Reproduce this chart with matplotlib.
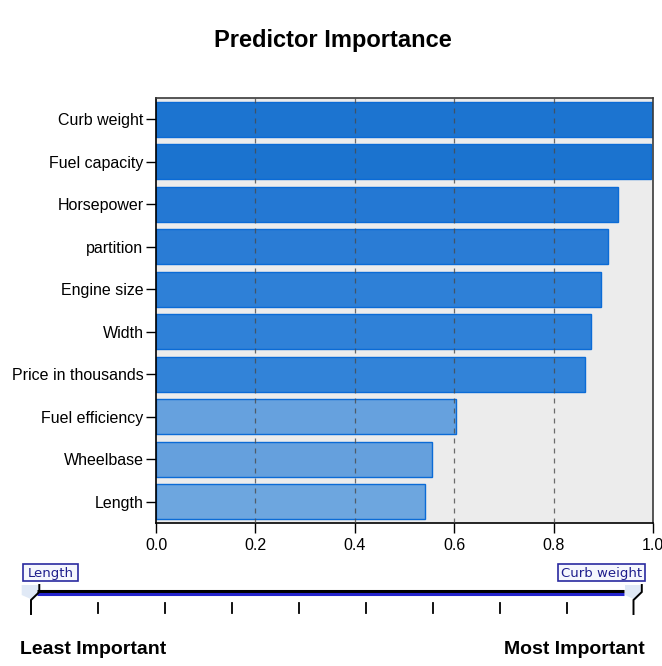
import numpy as np
import matplotlib
matplotlib.use("Agg")
import matplotlib.pyplot as plt
from matplotlib.patches import Polygon, Rectangle

# Predictor importance (normalised, most important first)
predictors = ["Curb weight", "Fuel capacity", "Horsepower", "partition",
              "Engine size", "Width", "Price in thousands", "Fuel efficiency",
              "Wheelbase", "Length"]
importance = [1.000, 0.995, 0.929, 0.910, 0.896, 0.875, 0.863, 0.604, 0.556, 0.541]
x_ticks = [0.0, 0.2, 0.4, 0.6, 0.8, 1.0]

# Bar fill shades: top group darker, bottom group lighter
bar_colors = ["#1c74d0", "#1b73cf", "#2478d3", "#2a7cd5", "#2e80d7",
              "#2f81d8", "#3283d8", "#66a1de", "#65a0dd", "#6da6df"]

W, H = 662, 666
plt.rcParams["font.family"] = ["Liberation Sans", "DejaVu Sans"]
fig = plt.figure(figsize=(W / 100, H / 100), dpi=100)
fig.patch.set_facecolor("white")

ax = fig.add_axes([156 / W, 1 - 523 / H, 497 / W, 425 / H])
ax.set_facecolor("#ececec")
ypos = np.arange(len(predictors))
ax.barh(ypos, importance, height=0.82, color=bar_colors,
        edgecolor="#0b6bd6", linewidth=1.0, zorder=2)
ax.set_ylim(len(predictors) - 0.5, -0.5)
ax.set_xlim(0, 1.0)
ax.set_yticks(ypos)
ax.set_yticklabels(predictors, fontsize=11.5)
ax.set_xticks(x_ticks)
ax.set_xticklabels([f"{t:.1f}" for t in x_ticks], fontsize=11.5)
ax.tick_params(axis="y", length=7.5, width=1, pad=1.5, color="black")
ax.tick_params(axis="x", length=7, width=1, pad=4, color="black")
for t in x_ticks[1:-1]:
    ax.axvline(t, color="#4a4a4a", linestyle=(0, (4, 4)), linewidth=0.9,
               alpha=0.8, zorder=3)
for side in ["left", "bottom"]:
    ax.spines[side].set_color("black")
    ax.spines[side].set_linewidth(1.2)
for side in ["top", "right"]:
    ax.spines[side].set_color("#3a3a3a")
    ax.spines[side].set_linewidth(1.2)

fig.text(333 / W, 1 - 41 / H, "Predictor Importance", ha="center", va="center",
         fontsize=17, fontweight="bold")

# Importance slider legend underneath
ov = fig.add_axes([0, 0, 1, 1], zorder=-1)
ov.set_xlim(0, W)
ov.set_ylim(H, 0)
ov.axis("off")

x_lo, x_hi = 31, 633.5
ov.plot([37, 624], [590.8, 590.8], color="black", lw=2.2, solid_capstyle="butt")
ov.plot([37, 624], [594.0, 594.0], color="#2424cc", lw=2.2, solid_capstyle="butt")
for x in np.linspace(x_lo, x_hi, 10)[1:-1]:
    ov.plot([x, x], [603, 613], color="black", lw=1.3)

def handle(stem_x, top_x, left, right):
    ov.add_patch(Polygon([(left, 585), (right, 585), (right, 593),
                          (stem_x + (1 if top_x > stem_x else -1) * 2, 600),
                          (left if top_x > stem_x else right, 595)],
                         closed=True, facecolor="#e0e9f6", edgecolor="none", zorder=1))
    ov.plot([top_x, top_x, stem_x, stem_x], [585, 592, 600, 614],
            color="black", lw=1.4, zorder=3, solid_joinstyle="miter")

handle(x_lo, 39.3, 21.7, 39.3)
handle(x_hi, 641.8, 625, 641.8)

def name_box(x0, x1, label):
    ov.add_patch(Rectangle((x0, 564.3), x1 - x0, 16.7, facecolor="#f5f7fd",
                           edgecolor="#2a2aa0", lw=1.2, zorder=4))
    ov.text((x0 + x1) / 2, 573, label, ha="center", va="center", fontsize=9.5,
            color="#1e1e8c", family=["DejaVu Sans"], zorder=5)

name_box(23.3, 77.7, predictors[int(np.argmin(importance))])
name_box(558.3, 645, predictors[int(np.argmax(importance))])

fig.text(20 / W, 1 - 650 / H, "Least Important", ha="left", va="center",
         fontsize=14, fontweight="bold")
fig.text(645 / W, 1 - 650 / H, "Most Important", ha="right", va="center",
         fontsize=14, fontweight="bold")

fig.savefig("out.png", dpi=100, facecolor="white")
